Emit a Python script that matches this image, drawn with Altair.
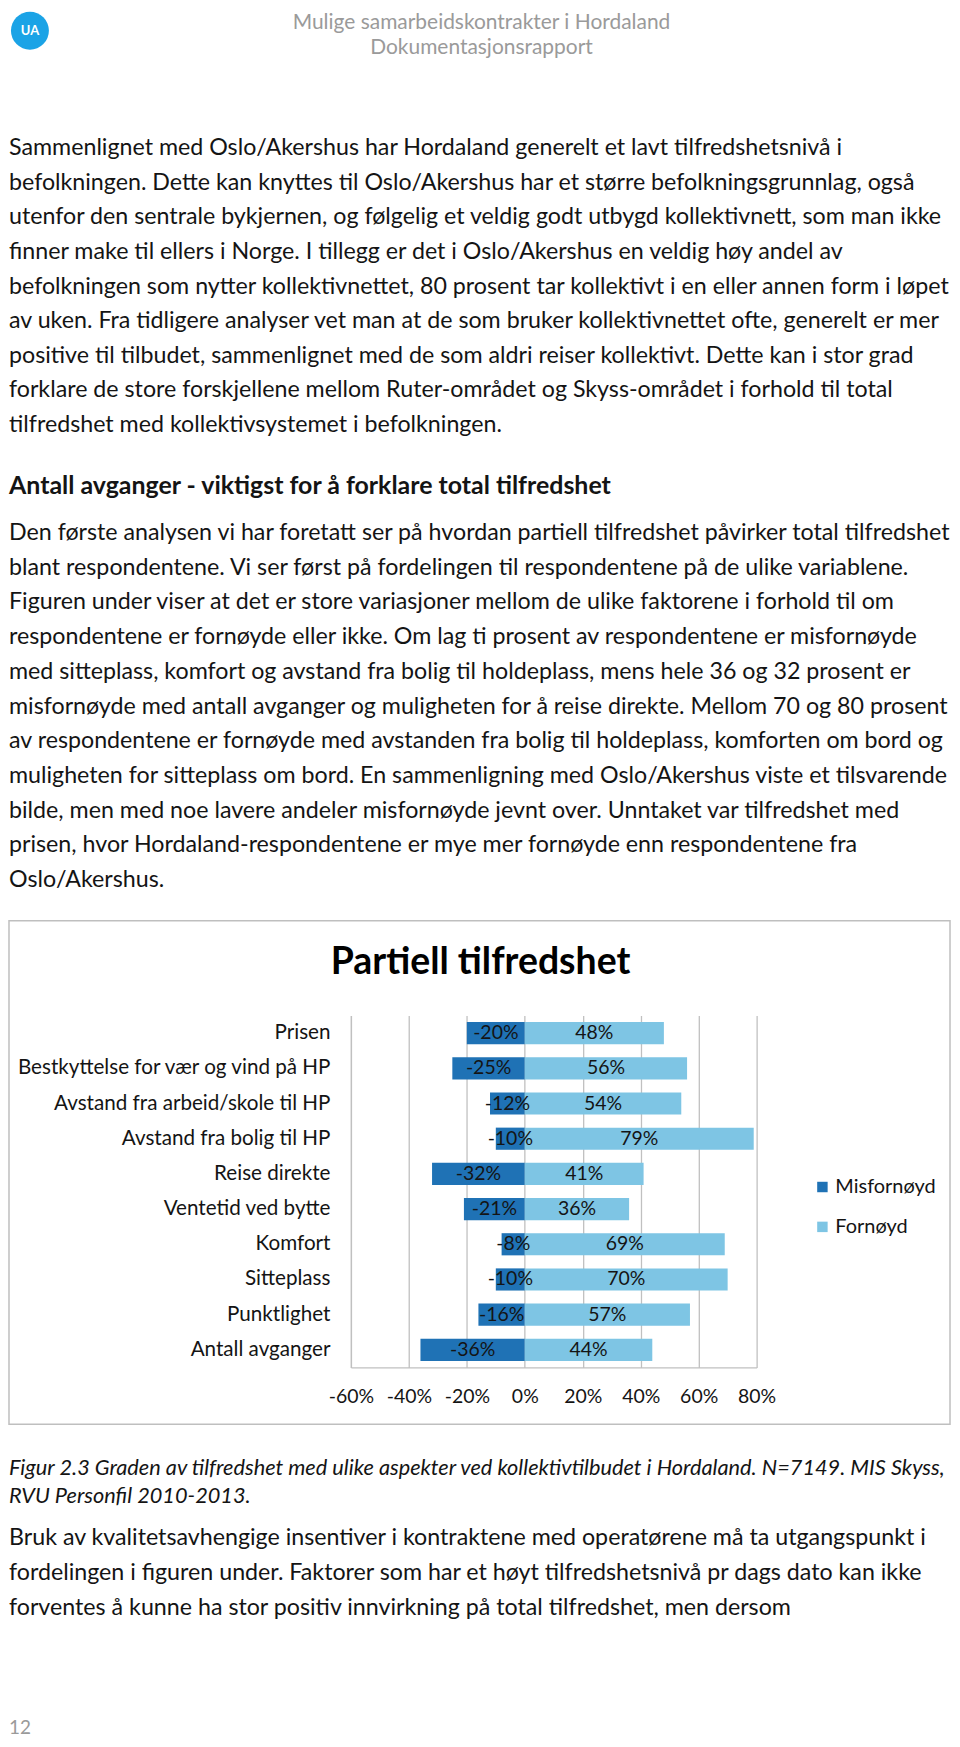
import altair as alt
import pandas as pd

# ---------------- data ----------------
header_lines = ["Mulige samarbeidskontrakter i Hordaland", "Dokumentasjonsrapport"]
logo_text = ["UA"]
para1 = [
    "Sammenlignet med Oslo/Akershus har Hordaland generelt et lavt tilfredshetsnivå i",
    "befolkningen. Dette kan knyttes til Oslo/Akershus har et større befolkningsgrunnlag, også",
    "utenfor den sentrale bykjernen, og følgelig et veldig godt utbygd kollektivnett, som man ikke",
    "finner make til ellers i Norge. I tillegg er det i Oslo/Akershus en veldig høy andel av",
    "befolkningen som nytter kollektivnettet, 80 prosent tar kollektivt i en eller annen form i løpet",
    "av uken. Fra tidligere analyser vet man at de som bruker kollektivnettet ofte, generelt er mer",
    "positive til tilbudet, sammenlignet med de som aldri reiser kollektivt. Dette kan i stor grad",
    "forklare de store forskjellene mellom Ruter-området og Skyss-området i forhold til total",
    "tilfredshet med kollektivsystemet i befolkningen.",
]
heading = ["Antall avganger - viktigst for å forklare total tilfredshet"]
para2 = [
    "Den første analysen vi har foretatt ser på hvordan partiell tilfredshet påvirker total tilfredshet",
    "blant respondentene. Vi ser først på fordelingen til respondentene på de ulike variablene.",
    "Figuren under viser at det er store variasjoner mellom de ulike faktorene i forhold til om",
    "respondentene er fornøyde eller ikke. Om lag ti prosent av respondentene er misfornøyde",
    "med sitteplass, komfort og avstand fra bolig til holdeplass, mens hele 36 og 32 prosent er",
    "misfornøyde med antall avganger og muligheten for å reise direkte. Mellom 70 og 80 prosent",
    "av respondentene er fornøyde med avstanden fra bolig til holdeplass, komforten om bord og",
    "muligheten for sitteplass om bord. En sammenligning med Oslo/Akershus viste et tilsvarende",
    "bilde, men med noe lavere andeler misfornøyde jevnt over. Unntaket var tilfredshet med",
    "prisen, hvor Hordaland-respondentene er mye mer fornøyde enn respondentene fra",
    "Oslo/Akershus.",
]
caption = [
    "Figur 2.3 Graden av tilfredshet med ulike aspekter ved kollektivtilbudet i Hordaland. N=7149. MIS Skyss,",
    "RVU Personfil 2010-2013.",
]
para3 = [
    "Bruk av kvalitetsavhengige insentiver i kontraktene med operatørene må ta utgangspunkt i",
    "fordelingen i figuren under. Faktorer som har et høyt tilfredshetsnivå pr dags dato kan ikke",
    "forventes å kunne ha stor positiv innvirkning på total tilfredshet, men dersom",
]
page_number = ["12"]

chart_title = ["Partiell tilfredshet"]
categories = [
    "Prisen",
    "Bestkyttelse for vær og vind på HP",
    "Avstand fra arbeid/skole til HP",
    "Avstand fra bolig til HP",
    "Reise direkte",
    "Ventetid ved bytte",
    "Komfort",
    "Sitteplass",
    "Punktlighet",
    "Antall avganger",
]
misfornoyd = [-20, -25, -12, -10, -32, -21, -8, -10, -16, -36]
fornoyd = [48, 56, 54, 79, 41, 36, 69, 70, 57, 44]
series = ["Misfornøyd", "Fornøyd"]
x_ticks = [-60, -40, -20, 0, 20, 40, 60, 80]

# ---------------- style ----------------
FONT = "Lato"
DARK = "#1f72b5"
LIGHT = "#7ec5e4"
GRID = "#c0c0c0"
TXT = "#141414"
PARA = 23.3

# Page layout is expressed relative to the bar plot's origin (top-left of plot area).
# Page left (x=8 on page) -> -343 ; page top (y=8) -> -1008


def text_block(lines, y0, step, size, x=-343, align="left", weight="normal",
               style="normal", color=TXT):
    df = pd.DataFrame({"line": list(range(len(lines))), "text": lines})
    return (
        alt.Chart(df)
        .transform_calculate(ypos=f"{y0} + datum.line * {step}")
        .mark_text(align=align, baseline="middle", font=FONT, fontSize=size,
                   fontWeight=weight, fontStyle=style, color=color)
        .encode(x=alt.value(x), y=alt.Y("ypos:Q", scale=None), text="text:N")
    )


# page extent (invisible) and chart frame
page = (
    alt.Chart(pd.DataFrame({"t": page_number}))
    .mark_rect(opacity=0)
    .encode(x=alt.value(-343), x2=alt.value(601), y=alt.value(-1008), y2=alt.value(723))
)
frame = (
    alt.Chart(pd.DataFrame({"t": chart_title}))
    .mark_rect(fillOpacity=0, stroke="#bfbfbf", strokeWidth=1.5)
    .encode(x=alt.value(-343), x2=alt.value(601), y=alt.value(-95), y2=alt.value(410))
)

# header
logo = (
    alt.Chart(pd.DataFrame({"t": logo_text}))
    .mark_circle(size=1450, color="#1ba3e6", opacity=1)
    .encode(x=alt.value(-322), y=alt.value(-988))
)
logo_lbl = (
    alt.Chart(pd.DataFrame({"t": logo_text}))
    .mark_text(font=FONT, fontSize=13, fontWeight="bold", color="white",
               align="center", baseline="middle")
    .encode(x=alt.value(-322), y=alt.value(-988), text="t:N")
)

# ---------------- bar chart ----------------
df = pd.DataFrame({
    "kategori": categories * 2,
    "serie": [series[0]] * len(categories) + [series[1]] * len(categories),
    "verdi": misfornoyd + fornoyd,
})
base = alt.Chart(df).transform_calculate(
    mid="datum.verdi / 2", label="datum.verdi + '%'"
)
x_scale = alt.Scale(domain=[-60, 80], nice=False)
y_enc = alt.Y(
    "kategori:N",
    sort=categories,
    scale=alt.Scale(paddingInner=0.37, paddingOuter=0.185),
    axis=alt.Axis(title=None, labelFont=FONT, labelFontSize=20.7, labelColor=TXT,
                  labelPadding=21, ticks=False, domainColor=GRID, domainWidth=1.3,
                  labelLimit=500),
)
x_axis = alt.Axis(title=None, values=x_ticks, labelExpr="datum.value + '%'",
                  labelFont=FONT, labelFontSize=19.5, labelColor=TXT,
                  labelOverlap=False, labelFlush=False, labelPadding=20, ticks=False,
                  grid=True, gridColor=GRID, gridWidth=1.3, domainColor=GRID,
                  domainWidth=1.3)
bars = base.mark_bar().encode(
    x=alt.X("verdi:Q", scale=x_scale, stack=None, axis=x_axis),
    y=y_enc,
    color=alt.Color(
        "serie:N",
        scale=alt.Scale(domain=series, range=[DARK, LIGHT]),
        legend=alt.Legend(title=None, orient="none", legendX=463, legendY=162,
                          symbolType="square", symbolSize=110, symbolStrokeWidth=0,
                          labelFont=FONT, labelFontSize=20, labelColor=TXT,
                          rowPadding=20, labelOffset=3),
    ),
)
labels = base.mark_text(font=FONT, fontSize=19.5, color=TXT, baseline="middle").encode(
    x=alt.X("mid:Q", scale=x_scale, axis=x_axis), y=y_enc, text="label:N"
)
title = (
    alt.Chart(pd.DataFrame({"t": chart_title}))
    .mark_text(font=FONT, fontSize=37.5, fontWeight="bold", color="#000000",
               align="center", baseline="middle")
    .encode(x=alt.value(130), y=alt.value(-53), text="t:N")
)

chart = (
    alt.layer(
        page,
        frame,
        bars,
        labels,
        title,
        logo,
        logo_lbl,
        text_block(header_lines, -996, 25, 21, x=131, align="center", color="#9a9a9a"),
        text_block(para1, -870, 34.7, PARA),
        text_block(heading, -531, 0, 25, weight="bold"),
        text_block(para2, -484, 34.8, PARA),
        text_block(caption, 454, 28, 21.8, style="italic"),
        text_block(para3, 524, 35, PARA),
        text_block(page_number, 715, 0, 19, color="#9a9a9a"),
    )
    .properties(width=407, height=353, padding=0, background="white")
    .configure_view(strokeWidth=0)
)

chart.save("out.html", embed_options={"renderer": "svg", "actions": False})
